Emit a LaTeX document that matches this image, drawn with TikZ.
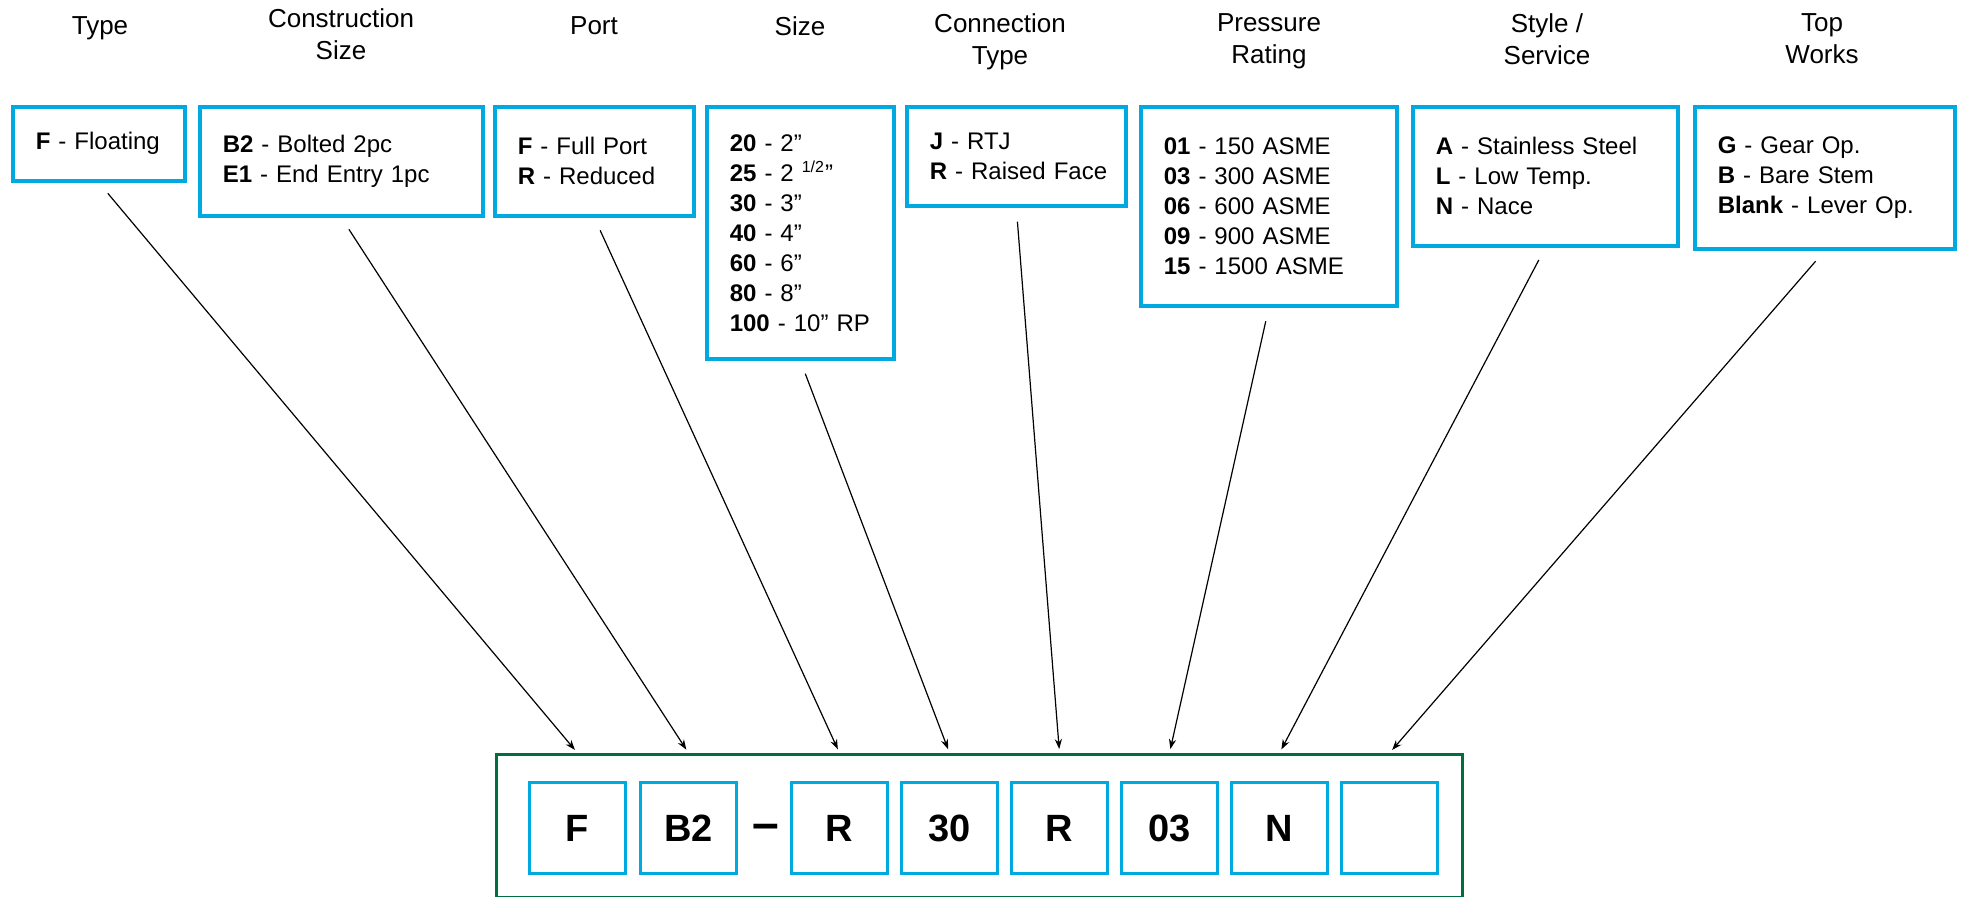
\documentclass[tikz,border=0pt]{standalone}
\usepackage{fontspec}
\setmainfont{Liberation Sans}
\usetikzlibrary{positioning,arrows.meta}
\definecolor{codeblue}{RGB}{0,169,224}
\definecolor{codegreen}{RGB}{0,110,62}

\begin{document}
\begin{tikzpicture}[x=0.5pt, y=-0.5pt,
  head/.style={anchor=north, inner sep=0pt, align=center, font=\fontsize{13}{16}\selectfont},
  optbox/.style={draw=codeblue, line width=1.8pt, anchor=north west, inner xsep=11.5pt, inner ysep=0pt, align=left, font=\fontsize{12}{15}\selectfont},
  letter/.style={draw=codeblue, line width=1.5pt, minimum width=48pt, minimum height=45.5pt, inner sep=0pt, font=\fontsize{19}{19}\selectfont\bfseries},
  pointer/.style={-{Stealth[length=5pt,width=3.6pt]}, line width=0.6pt, shorten <=7pt, shorten >=2pt}]
  \useasboundingbox (0,0) rectangle (1963,897);

  % headings
  \node[head] (h1) at (100,16) {Type};
  \node[head] (h2) at (341,8) {Construction\\Size};
  \node[head] (h3) at (594,16) {Port};
  \node[head] (h4) at (800,16) {Size};
  \node[head] (h5) at (1000,13) {Connection\\Type};
  \node[head] (h6) at (1269,13) {Pressure\\Rating};
  \node[head] (h7) at (1547,13) {Style /\\Service};
  \node[head] (h8) at (1822,13) {Top\\Works};

  % option boxes
  \node[optbox, text width=63pt, minimum height=37pt] (type) at (11,105) {\textbf{F} - Floating};
  \node[optbox, text width=118.5pt, minimum height=54.5pt] (constr) at (198,105)
    {\textbf{B2} - Bolted 2pc\\\textbf{E1} - End Entry 1pc};
  \node[optbox, text width=76.5pt, minimum height=54.5pt] (port) at (493,105)
    {\textbf{F} - Full Port\\\textbf{R} - Reduced};
  \node[optbox, text width=70.5pt, minimum height=126pt] (size) at (705,105)
    {\textbf{20} - 2”\\\textbf{25} - 2 \textsuperscript{1/2}”\\\textbf{30} - 3”\\\textbf{40} - 4”\\
     \textbf{60} - 6”\\\textbf{80} - 8”\\\textbf{100} - 10” RP};
  \node[optbox, text width=86.5pt, minimum height=49.5pt] (conn) at (905,105)
    {\textbf{J} - RTJ\\\mbox{\textbf{R} - Raised Face}};
  \node[optbox, text width=105pt, minimum height=99.5pt] (press) at (1139,105)
    {\textbf{01} - 150 ASME\\\textbf{03} - 300 ASME\\\textbf{06} - 600 ASME\\
     \textbf{09} - 900 ASME\\\textbf{15} - 1500 ASME};
  \node[optbox, text width=109.5pt, minimum height=69.5pt] (style) at (1411,105)
    {\textbf{A} - Stainless Steel\\\textbf{L} - Low Temp.\\\textbf{N} - Nace};
  \node[optbox, text width=107pt, minimum height=71pt] (top) at (1693,105)
    {\textbf{G} - Gear Op.\\\textbf{B} - Bare Stem\\\textbf{Blank} - Lever Op.};

  % model code
  \node[draw=codegreen, line width=1.5pt, anchor=north west, minimum width=483pt,
    minimum height=71.5pt, inner sep=0pt] (code) at (495,753) {};
  \node[letter] (l1) at (577.5,828) {F};
  \node[letter, right=6pt of l1] (l2) {B2};
  \node[letter, right=26pt of l2] (l3) {R};
  \node[letter, right=5.5pt of l3] (l4) {30};
  \node[letter, right=5.5pt of l4] (l5) {R};
  \node[letter, right=5.5pt of l5] (l6) {03};
  \node[letter, right=5.5pt of l6] (l7) {N};
  \node[letter, right=5.5pt of l7] (l8) {};
  \node[inner sep=0pt, anchor=base, font=\fontsize{24}{24}\selectfont\bfseries] (dash) at (766,839) {--};

  % pointers
  \draw[pointer] (type.south) -- (l1.north |- code.north);
  \draw[pointer] (constr.south) -- (l2.north |- code.north);
  \draw[pointer] (port.south) -- (l3.north |- code.north);
  \draw[pointer] (size.south) -- (l4.north |- code.north);
  \draw[pointer] (conn.south) -- (l5.north |- code.north);
  \draw[pointer] (press.south) -- (l6.north |- code.north);
  \draw[pointer] (style.south) -- (l7.north |- code.north);
  \draw[pointer] (top.south) -- (l8.north |- code.north);
\end{tikzpicture}
\end{document}
